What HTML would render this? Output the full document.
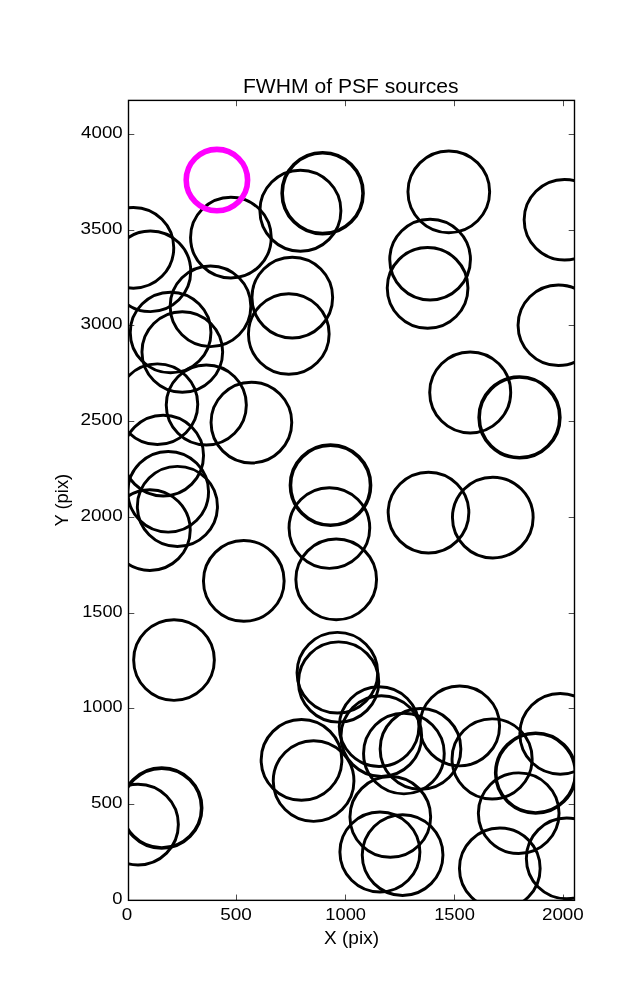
<!DOCTYPE html>
<html lang="en">
<head>
<meta charset="utf-8">
<title>FWHM of PSF sources</title>
<style>
html,body{margin:0;padding:0;background:#fff;}
body{width:637px;height:1000px;overflow:hidden;}
svg{display:block;will-change:transform;}
text{font-family:"Liberation Sans",sans-serif;fill:#000;}
</style>
</head>
<body>
<svg width="637" height="1000" viewBox="0 0 637 1000">
<rect x="0" y="0" width="637" height="1000" fill="#ffffff"/>
<defs><clipPath id="ax"><rect x="128.5" y="100.4" width="446" height="799.95"/></clipPath></defs>
<g clip-path="url(#ax)" fill="none" stroke="#000" stroke-width="2.95">
<circle cx="133.4" cy="247.8" r="40.35"/>
<circle cx="150.4" cy="271.3" r="40.35"/>
<circle cx="230.9" cy="237.6" r="40.35"/>
<circle cx="210.5" cy="306.3" r="40.35"/>
<circle cx="170.6" cy="332.5" r="40.35"/>
<circle cx="182.3" cy="352" r="40.35"/>
<circle cx="157.4" cy="404.2" r="40.35"/>
<circle cx="206.3" cy="405" r="40.05"/>
<circle cx="251.4" cy="422.6" r="40.35"/>
<circle cx="163.2" cy="455.6" r="40.35"/>
<circle cx="168.2" cy="491.8" r="40.35"/>
<circle cx="177.4" cy="506.4" r="40.05"/>
<circle cx="149.9" cy="530.1" r="40.35"/>
<circle cx="243.8" cy="580.9" r="40.35"/>
<circle cx="174" cy="660" r="40.35"/>
<circle cx="161.7" cy="808.05" r="39.95" stroke-width="3.6"/>
<circle cx="138" cy="824.6" r="40.35"/>
<circle cx="322.6" cy="193.2" r="40.45" stroke-width="3.6"/>
<circle cx="300.4" cy="210.7" r="40.5"/>
<circle cx="292.3" cy="297.6" r="40.35"/>
<circle cx="288.8" cy="334" r="40.35"/>
<circle cx="448.8" cy="191.8" r="40.85"/>
<circle cx="430.1" cy="259.6" r="40.35"/>
<circle cx="427.6" cy="287.9" r="40.35"/>
<circle cx="470.2" cy="392.4" r="40.5"/>
<circle cx="564.5" cy="219.75" r="40.35"/>
<circle cx="558.4" cy="325.25" r="40.35"/>
<circle cx="330.5" cy="485.2" r="40.05" stroke-width="3.6"/>
<circle cx="329.4" cy="528" r="40.35"/>
<circle cx="336.2" cy="579.4" r="40.35"/>
<circle cx="519.5" cy="417.4" r="40.35" stroke-width="3.6"/>
<circle cx="428.5" cy="512.6" r="40.35"/>
<circle cx="492.8" cy="517.6" r="40.35"/>
<circle cx="337.4" cy="672.7" r="40.35"/>
<circle cx="338.6" cy="682" r="40.15"/>
<circle cx="301.5" cy="759.9" r="40.35"/>
<circle cx="313.6" cy="781" r="40.35"/>
<circle cx="379.1" cy="726.6" r="39.85"/>
<circle cx="381.3" cy="736.1" r="40.35"/>
<circle cx="403.9" cy="753.5" r="40.35"/>
<circle cx="420.5" cy="748.9" r="40.35"/>
<circle cx="390.3" cy="816.9" r="40.35"/>
<circle cx="379.9" cy="852" r="40"/>
<circle cx="402.6" cy="855.1" r="40.35"/>
<circle cx="459.7" cy="725.95" r="39.9"/>
<circle cx="492.1" cy="758.9" r="40.05"/>
<circle cx="499.8" cy="868.4" r="40.35"/>
<circle cx="560.2" cy="733.8" r="40.35"/>
<circle cx="535.6" cy="773.1" r="39.9" stroke-width="3.6"/>
<circle cx="518.7" cy="813.2" r="40.35"/>
<circle cx="566.7" cy="858.4" r="40.35"/>
<circle cx="216.9" cy="180.1" r="30.7" stroke="#ff00ff" stroke-width="5.6"/>
</g>
<g stroke="#000" stroke-width="0.7" fill="none">
<path d="M236.5 900.35 v-5.8 M236.5 100.4 v5.8"/>
<path d="M345.5 900.35 v-5.8 M345.5 100.4 v5.8"/>
<path d="M454.5 900.35 v-5.8 M454.5 100.4 v5.8"/>
<path d="M563.5 900.35 v-5.8 M563.5 100.4 v5.8"/>
<path d="M128.5 900.5 h5.8 M574.5 900.5 h-5.8"/>
<path d="M128.5 804.5 h5.8 M574.5 804.5 h-5.8"/>
<path d="M128.5 708.5 h5.8 M574.5 708.5 h-5.8"/>
<path d="M128.5 613.5 h5.8 M574.5 613.5 h-5.8"/>
<path d="M128.5 517.5 h5.8 M574.5 517.5 h-5.8"/>
<path d="M128.5 421.5 h5.8 M574.5 421.5 h-5.8"/>
<path d="M128.5 325.5 h5.8 M574.5 325.5 h-5.8"/>
<path d="M128.5 230.5 h5.8 M574.5 230.5 h-5.8"/>
<path d="M128.5 134.5 h5.8 M574.5 134.5 h-5.8"/>
</g>
<rect x="128.5" y="100.4" width="446" height="799.95" fill="none" stroke="#000" stroke-width="1.39"/>
<text transform="translate(242.95 93.00) scale(1.0297 1)" style="font-size:20.5px">FWHM of PSF sources</text>
<text transform="translate(121.83 920.00) scale(1.0828 1)" style="font-size:17.4px">0</text>
<text transform="translate(220.28 920.00) scale(1.0903 1)" style="font-size:17.4px">500</text>
<text transform="translate(325.32 920.00) scale(1.0515 1)" style="font-size:17.4px">1000</text>
<text transform="translate(434.16 920.00) scale(1.0536 1)" style="font-size:17.4px">1500</text>
<text transform="translate(541.91 920.00) scale(1.0831 1)" style="font-size:17.4px">2000</text>
<text transform="translate(112.36 904.00) scale(1.0607 1)" style="font-size:17.4px">0</text>
<text transform="translate(91.00 808.00) scale(1.0846 1)" style="font-size:17.4px">500</text>
<text transform="translate(82.21 712.00) scale(1.0432 1)" style="font-size:17.4px">1000</text>
<text transform="translate(82.21 617.00) scale(1.0432 1)" style="font-size:17.4px">1500</text>
<text transform="translate(80.56 521.00) scale(1.0889 1)" style="font-size:17.4px">2000</text>
<text transform="translate(80.56 425.00) scale(1.0889 1)" style="font-size:17.4px">2500</text>
<text transform="translate(80.59 329.00) scale(1.0869 1)" style="font-size:17.4px">3000</text>
<text transform="translate(80.59 234.00) scale(1.0869 1)" style="font-size:17.4px">3500</text>
<text transform="translate(81.11 138.00) scale(1.0744 1)" style="font-size:17.4px">4000</text>
<text transform="translate(324.11 944.00) scale(1.0802 1)" style="font-size:17.6px">X (pix)</text>
<text transform="translate(68.40 526.58) rotate(-90) scale(1.0458 1)" style="font-size:17.6px">Y (pix)</text>
</svg>
</body>
</html>
